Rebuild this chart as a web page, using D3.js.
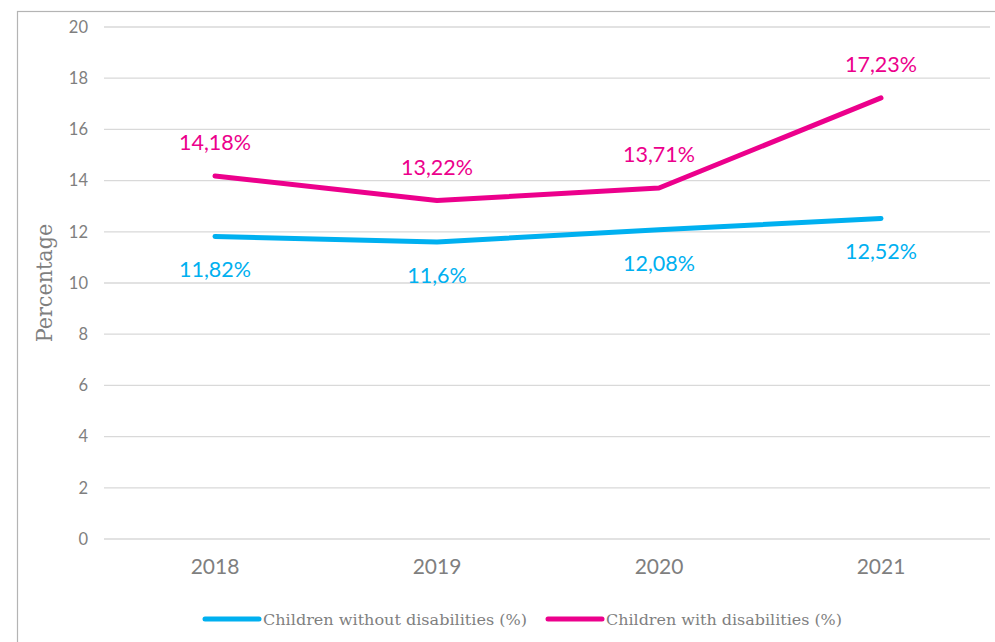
<!DOCTYPE html>
<html><head><meta charset="utf-8">
<script src="https://cdn.jsdelivr.net/npm/d3@7"></script>
<style>body{margin:0;background:#fff;} svg{display:block;}</style>
</head><body>
<svg id="c" width="995" height="642"></svg>
<script>
const years = ["2018","2019","2020","2021"];
const withoutDis = [11.82, 11.6, 12.08, 12.52];
const withDis = [14.18, 13.22, 13.71, 17.23];
const withoutLabels = ["11,82%","11,6%","12,08%","12,52%"];
const withLabels = ["14,18%","13,22%","13,71%","17,23%"];
const yTicks = [0,2,4,6,8,10,12,14,16,18,20];
const seriesNames = ["Children without disabilities (%)","Children with disabilities (%)"];
const colors = ["#00b0f0","#ec008c"];

const svg = d3.select("#c");
svg.append("rect").attr("x",17.5).attr("y",11.5).attr("width",1000).attr("height",700)
  .attr("fill","#fff").attr("stroke","#b4b4b4").attr("stroke-width",1.2);

const x = d3.scaleBand().domain(years).range([104,992]);
const y = d3.scaleLinear().domain([0,20]).range([539,27]);

const grid = svg.append("g");
grid.selectAll("line").data(yTicks).join("line")
  .attr("x1",104).attr("x2",990).attr("y1",d=>y(d)).attr("y2",d=>y(d))
  .attr("stroke","#d9d9d9").attr("stroke-width",1.3);

const yAxis = svg.append("g").attr("transform","translate(104,0)")
  .call(d3.axisLeft(y).tickValues(yTicks).tickSize(0).tickPadding(16));
yAxis.select(".domain").remove();
yAxis.selectAll("text").attr("font-family","Lato").attr("font-size",16.5).attr("fill","#7f7f7f");

const xAxis = svg.append("g").attr("transform","translate(0,539)")
  .call(d3.axisBottom(x).tickSize(0).tickPadding(20));
xAxis.select(".domain").remove();
xAxis.selectAll("text").attr("font-family","Lato").attr("font-size",21).attr("fill","#7f7f7f");

svg.append("text").attr("transform","translate(52,283) rotate(-90)")
  .attr("text-anchor","middle").attr("font-family","DejaVu Serif Condensed, serif")
  .attr("font-size",23).attr("fill","#7f7f7f").text("Percentage");

const line = d3.line().x((d,i)=>x(years[i])+x.bandwidth()/2).y(d=>y(d));
[withoutDis, withDis].forEach((s,k)=>{
  svg.append("path").datum(s).attr("d",line).attr("fill","none")
    .attr("stroke",colors[k]).attr("stroke-width",5).attr("stroke-linecap","round").attr("stroke-linejoin","round");
});

const cx = (i)=>x(years[i])+x.bandwidth()/2;
svg.append("g").selectAll("text").data(withDis).join("text")
  .attr("x",(d,i)=>cx(i)).attr("y",d=>y(d)-26).attr("text-anchor","middle")
  .attr("font-family","Lato").attr("font-size",21.5).attr("fill",colors[1])
  .text((d,i)=>withLabels[i]);
svg.append("g").selectAll("text").data(withoutDis).join("text")
  .attr("x",(d,i)=>cx(i)).attr("y",d=>y(d)+41).attr("text-anchor","middle")
  .attr("font-family","Lato").attr("font-size",21.5).attr("fill",colors[0])
  .text((d,i)=>withoutLabels[i]);

const legX = [205, 548];
const legLen = [264, 236];
const leg = svg.append("g");
seriesNames.forEach((n,k)=>{
  leg.append("line").attr("x1",legX[k]).attr("x2",legX[k]+54).attr("y1",619).attr("y2",619)
    .attr("stroke",colors[k]).attr("stroke-width",5).attr("stroke-linecap","round");
  leg.append("text").attr("x",legX[k]+58).attr("y",625)
    .attr("font-family","DejaVu Serif Condensed, serif").attr("font-size",15.5).attr("fill","#7f7f7f")
    .attr("textLength", legLen[k]).attr("lengthAdjust","spacingAndGlyphs").text(n);
});
</script>
</body></html>
